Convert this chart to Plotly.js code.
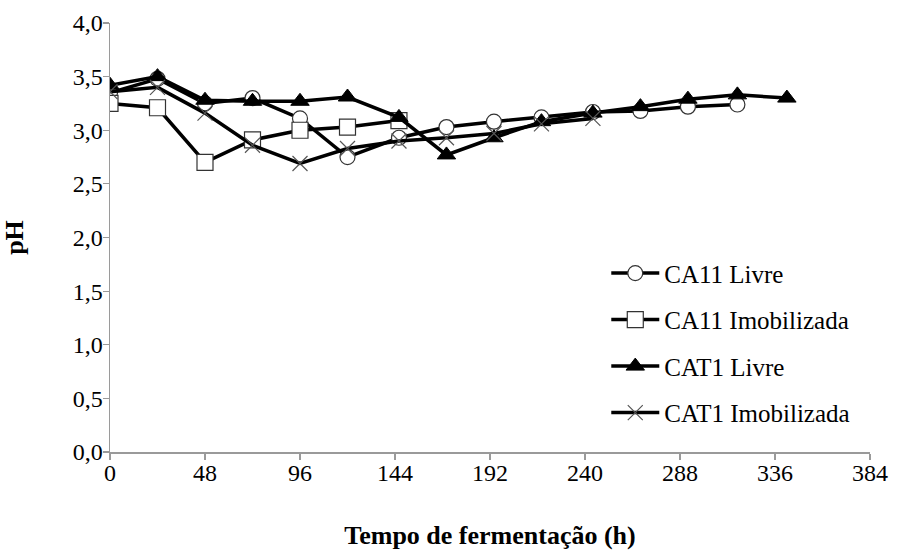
<!DOCTYPE html>
<html>
<head>
<meta charset="utf-8">
<script src="https://cdn.plot.ly/plotly-3.0.1.min.js"></script>
<style>html,body{margin:0;padding:0;background:#fff;}#chart{width:906px;height:554px;}</style>
</head>
<body>
<div id="chart"></div>
<script>
// Data
const seriesNames = ["CA11 Livre", "CA11 Imobilizada", "CAT1 Livre", "CAT1 Imobilizada"];

const timeCA11Livre = [0, 24, 48, 72, 96, 120, 146, 170, 194, 218, 244, 268, 292, 317];
const phCA11Livre   = [3.35, 3.48, 3.25, 3.30, 3.11, 2.75, 2.93, 3.03, 3.08, 3.12, 3.17, 3.18, 3.22, 3.24];

const timeCA11Imob = [0, 24, 48, 72, 96, 120, 146];
const phCA11Imob   = [3.25, 3.21, 2.70, 2.91, 3.00, 3.03, 3.09];

const timeCAT1Livre = [0, 24, 48, 72, 96, 120, 146, 170, 194, 218, 244, 268, 292, 317, 342];
const phCAT1Livre   = [3.42, 3.50, 3.28, 3.27, 3.27, 3.31, 3.12, 2.77, 2.93, 3.08, 3.16, 3.22, 3.29, 3.33, 3.30];

const timeCAT1Imob = [0, 24, 48, 72, 96, 120, 146, 170, 194, 218, 244];
const phCAT1Imob   = [3.36, 3.40, 3.16, 2.86, 2.69, 2.83, 2.90, 2.93, 2.97, 3.06, 3.11];

const xTickVals = [0, 48, 96, 144, 192, 240, 288, 336, 384];
const xTickText = ["0", "48", "96", "144", "192", "240", "288", "336", "384"];
const yTickVals = [0, 0.5, 1.0, 1.5, 2.0, 2.5, 3.0, 3.5, 4.0];
const yTickText = ["0,0", "0,5", "1,0", "1,5", "2,0", "2,5", "3,0", "3,5", "4,0"];

const serif = "Liberation Serif";
const lineStyle = {color: "#000000", width: 3.5};

const traces = [
  {
    x: timeCA11Livre, y: phCA11Livre, name: seriesNames[0], legendgroup: "a",
    mode: "lines+markers", line: lineStyle,
    marker: {symbol: "circle", size: 15, color: "#ffffff", line: {color: "#333333", width: 1.2}}
  },
  {
    x: timeCA11Imob, y: phCA11Imob, name: seriesNames[1], legendgroup: "b",
    mode: "lines+markers", line: lineStyle,
    marker: {symbol: "square", size: 16, color: "#ffffff", line: {color: "#333333", width: 1.2}}
  },
  {
    x: timeCAT1Livre, y: phCAT1Livre, name: seriesNames[2], legendgroup: "c",
    mode: "lines+markers", line: lineStyle,
    marker: {symbol: "triangle-up", size: 16, color: "#000000", line: {color: "#000000", width: 1}}
  },
  {
    x: timeCAT1Imob, y: phCAT1Imob, name: seriesNames[3], legendgroup: "d",
    mode: "lines+markers", line: lineStyle,
    marker: {symbol: "x-thin-open", size: 15, color: "#555555", line: {color: "#555555", width: 1.2}}
  }
];

const layout = {
  width: 906, height: 554,
  margin: {l: 110, r: 36, t: 23, b: 102},
  paper_bgcolor: "#ffffff", plot_bgcolor: "#ffffff",
  font: {family: serif, size: 23, color: "#000000"},
  showlegend: true,
  legend: {
    x: 0.653, y: 0.47, xanchor: "left", yanchor: "top",
    bgcolor: "rgba(255,255,255,0)", borderwidth: 0,
    font: {family: serif, size: 25, color: "#000000"},
    tracegroupgap: 11, itemwidth: 48
  },
  xaxis: {
    range: [0, 384], tickvals: xTickVals, ticktext: xTickText,
    showgrid: false, zeroline: false, showline: true, linecolor: "#9a9a9a", linewidth: 1.5,
    ticks: "outside", ticklen: 6, tickcolor: "#9a9a9a", tickwidth: 1.2,
    ticklabelstandoff: -7,
    tickfont: {family: serif, size: 24, color: "#000000"},
    title: {text: "<b>Tempo de fermentação (h)</b>", font: {family: serif, size: 26, color: "#000000"}, standoff: 40},
    mirror: false
  },
  yaxis: {
    range: [0, 4], tickvals: yTickVals, ticktext: yTickText,
    showgrid: false, zeroline: false, showline: true, linecolor: "#9a9a9a", linewidth: 1.5,
    ticks: "outside", ticklen: 6, tickcolor: "#9a9a9a", tickwidth: 1.2,
    ticklabelstandoff: -5,
    tickfont: {family: serif, size: 24, color: "#000000"},
    title: {text: "<b>pH</b>", font: {family: serif, size: 26, color: "#000000"}, standoff: 44}
  }
};

Plotly.newPlot("chart", traces, layout, {displayModeBar: false, staticPlot: true});
</script>
</body>
</html>
